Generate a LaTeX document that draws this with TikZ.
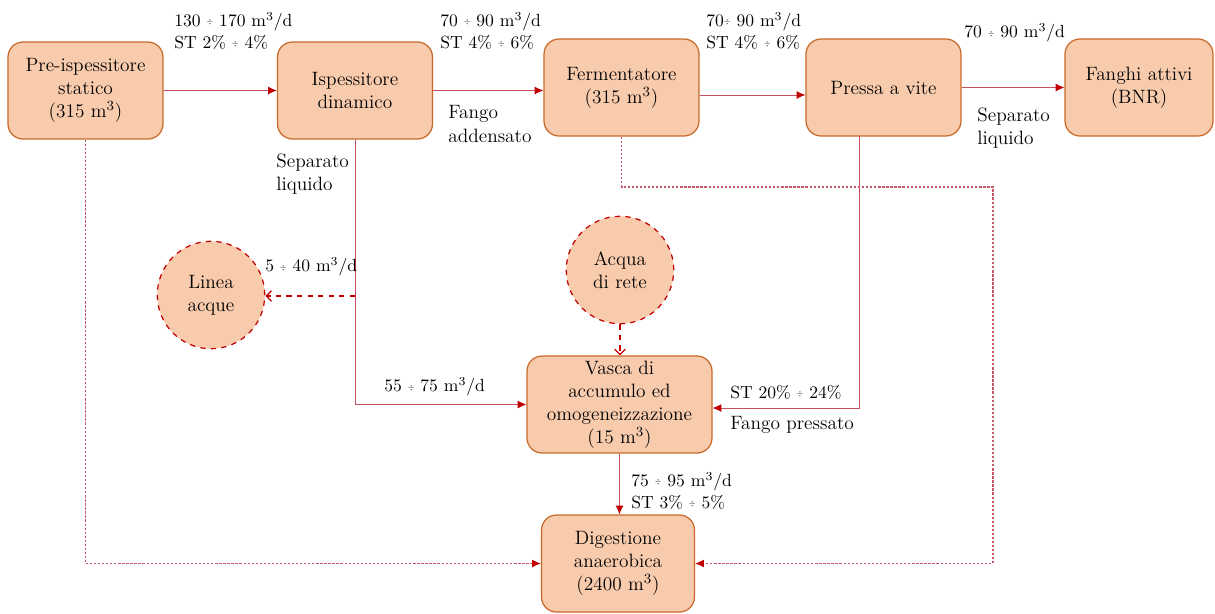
\documentclass[tikz,border=0pt]{standalone}
\usepackage{fontspec}
\usepackage{graphicx}
\usetikzlibrary{arrows.meta,calc}
\definecolor{boxfill}{HTML}{F8CBAD}
\definecolor{boxdraw}{HTML}{C8692A}
\definecolor{flowred}{HTML}{C00000}
\definecolor{linered}{HTML}{C8505E}
\definecolor{dotred}{HTML}{C85868}
\newcommand{\dv}{\raisebox{1pt}{\scalebox{0.5}{$\div$}}}
\begin{document}
\begin{tikzpicture}[x=0.02cm,y=-0.02cm,
  every node/.style={font=\fontsize{11}{13.2}\selectfont},
  unit/.style={draw=boxdraw,fill=boxfill,line width=0.7pt,rounded corners=0.3cm,
    align=center,inner sep=0pt,minimum width=3.1cm,minimum height=1.94cm},
  source/.style={draw=flowred,fill=boxfill,dashed,line width=0.7pt,circle,
    align=center,inner sep=0pt,minimum size=2.15cm},
  lbl/.style={anchor=west,align=left,inner sep=0pt},
  qty/.style={lbl,font=\fontsize{10}{12.5}\selectfont},
  flow/.style={draw=linered,line width=0.5pt,-{Latex[length=5pt,width=4.5pt,color=flowred]}},
  dflow/.style={draw=flowred,line width=0.7pt,dashed,-{Straight Barb[length=3pt,width=6pt]}},
  dotflow/.style={draw=dotred,line width=0.6pt,dash pattern=on 1.3pt off 1pt,-{Latex[length=5pt,width=4.5pt,color=flowred]}}
]
\useasboundingbox (0,0) rectangle (1215,613);
% units
\node[unit] (pre) at (85.5,90.5) {Pre-ispessitore\\statico\\(315 m$^3$)};
\node[unit] (isp) at (355,90.5) {Ispessitore\\dinamico};
\node[unit] (ferm) at (621.5,87.5) {Fermentatore\\(315 m$^3$)};
\node[unit] (pressa) at (883.5,87.5) {Pressa a vite};
\node[unit,minimum width=2.96cm] (fanghi) at (1139,87.5) {Fanghi attivi\\(BNR)};
\node[unit,minimum width=3.7cm] (vasca) at (619.5,404.5) {Vasca di\\accumulo ed\\omogeneizzazione\\(15 m$^3$)};
\node[unit,minimum width=3.06cm] (dig) at (618,563.5) {Digestione\\anaerobica\\(2400 m$^3$)};
\node[source] (linea) at (211,295) {Linea\\acque};
\node[source] (acqua) at (620,270) {Acqua\\di rete};
% helper coordinates
\coordinate (br) at (355,296);
\coordinate (pb) at (859,136);
\coordinate (fc) at (993,187);
\coordinate (fo) at ($(ferm.east)+(0,7.5)$);
\coordinate (ve) at ($(vasca.east)+(0,3.5)$);
% connectors
\draw[flow] (pre) -- (isp);
\draw[flow] (isp.east) -- (isp.east -| ferm.west);
\draw[flow] (fo) -- (fo -| pressa.west);
\draw[flow] (pressa) -- (fanghi);
\draw[flow] (isp.south) |- (vasca.west);
\draw[dflow] (br) -- (br -| linea.east);
\draw[dflow] (acqua.south) -- (acqua.south |- vasca.north);
\draw[flow] (pb) |- (ve);
\draw[flow] (vasca.south) -- (vasca.south |- dig.north);
\draw[dotflow] (pre.south) |- (dig.west);
\draw[dotflow] (ferm.south) |- (fc) |- (dig.east);
% labels
\node[qty] (l1) at (174,31) {130 \dv{} 170 m$^3$/d\\ST 2\% \dv{} 4\%};
\node[qty] (l2) at (440,31) {70 \dv{} 90 m$^3$/d\\ST 4\% \dv{} 6\%};
\node[lbl] (l3) at (448,124) {Fango\\addensato};
\node[lbl] (l4) at (276,174) {Separato\\liquido};
\node[qty] (l5) at (706,31) {70\dv{} 90 m$^3$/d\\ST 4\% \dv{} 6\%};
\node[qty] (l6) at (964,33) {70 \dv{} 90 m$^3$/d};
\node[lbl] (l7) at (977,128) {Separato\\liquido};
\node[qty] (l8) at (265,267) {5 \dv{} 40 m$^3$/d};
\node[qty] (l9) at (384,387) {55 \dv{} 75 m$^3$/d};
\node[qty] (l10) at (730,392) {ST 20\% \dv{} 24\%};
\node[lbl] (l11) at (730,425) {Fango pressato};
\node[qty] (l12) at (631,491) {75 \dv{} 95 m$^3$/d\\ST 3\% \dv{} 5\%};
\end{tikzpicture}
\end{document}
